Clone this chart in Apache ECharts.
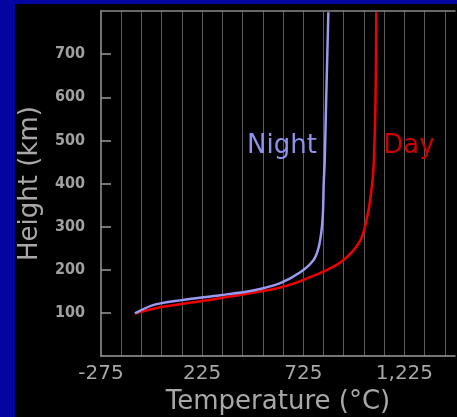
<!DOCTYPE html>
<html>
<head>
<meta charset="utf-8">
<script src="https://cdn.jsdelivr.net/npm/echarts@6/dist/echarts.min.js"></script>
<style>
  html, body { margin: 0; padding: 0; background: #0404a0; width: 457px; height: 417px; overflow: hidden; }
  #chart { position: absolute; left: 15px; top: 4px; width: 442px; height: 413px; background: #000; }
</style>
</head>
<body>
<div id="chart"></div>
<script>
// night profile (temperature °C, height km)
const nightTemp = [-107, -18, 116, 314, 477, 611, 710, 775, 800, 815, 822, 826, 831, 838, 849];
const nightHeight = [99, 118, 129, 141, 152, 169, 194, 222, 250, 290, 330, 400, 453, 591, 797];

// day profile
const dayTemp = [-107, 17, 314, 611, 745, 908, 1007, 1047, 1067, 1074, 1082, 1086];
const dayHeight = [99, 113, 134, 159, 180, 217, 268, 337, 406, 453, 591, 797];

// tick labels shown on the x axis
const xTickLabels = [-275, 225, 725, 1225];

const labelNight = { text: "Night", at: [620, 487] };
const labelDay = { text: "Day", at: [1247, 487] };

const toPairs = (xs, ys) => xs.map((x, i) => [x, ys[i]]);

const fmtThousands = (v) => {
  const s = String(Math.abs(v)).replace(/\B(?=(\d{3})+(?!\d))/g, ",");
  return v < 0 ? "-" + s : s;
};

const textMark = (lbl, color) => ({
  symbol: "circle",
  symbolSize: 1,
  itemStyle: { color: "rgba(0,0,0,0)" },
  data: [{ coord: lbl.at, value: lbl.text }],
  label: {
    show: true,
    position: "inside",
    formatter: lbl.text,
    color: color,
    fontSize: 26,
    fontFamily: "DejaVu Sans",
  },
});

const chart = echarts.init(document.getElementById("chart"));

const axisGrey = { color: "#9a9a9a", width: 1.5 };

const option = {
  backgroundColor: "#000",
  animation: false,
  grid: { left: 86, top: 7, bottom: 61, right: 2, outerBoundsMode: "none", containLabel: false },
  xAxis: [
    {
      type: "value",
      min: -275,
      max: 1475,
      interval: 100,
      name: "Temperature (°C)",
      nameLocation: "middle",
      nameGap: 31,
      nameTextStyle: { color: "#a8a8a8", fontSize: 26, fontFamily: "DejaVu Sans" },
      axisLine: { onZero: false, lineStyle: axisGrey },
      axisTick: { show: false },
      splitLine: { show: true, showMaxLine: false, showMinLine: false, lineStyle: { color: "#5c5c5c", width: 1 } },
      axisLabel: {
        color: "#a8a8a8",
        fontSize: 20,
        fontFamily: "DejaVu Sans",
        margin: 8,
        showMaxLabel: false,
        formatter: (v) => (xTickLabels.includes(v) ? fmtThousands(v) : ""),
      },
    },
    {
      // top frame line
      type: "value",
      position: "top",
      min: -275,
      max: 1475,
      axisLine: { show: true, onZero: false, lineStyle: { color: "#8a8a8a", width: 1.5 } },
      axisTick: { show: false },
      axisLabel: { show: false },
      splitLine: { show: false },
    },
  ],
  yAxis: {
    type: "value",
    min: 0,
    max: 800,
    interval: 100,
    name: "Height (km)",
    nameLocation: "middle",
    nameGap: 58,
    nameTextStyle: { color: "#a8a8a8", fontSize: 26, fontFamily: "DejaVu Sans" },
    axisLine: { onZero: false, lineStyle: axisGrey },
    axisTick: { show: true, inside: true, length: 10, lineStyle: axisGrey },
    splitLine: { show: false },
    axisLabel: {
      color: "#a0a0a0",
      fontSize: 16,
      fontWeight: "bold",
      fontFamily: "DejaVu Sans Condensed",
      margin: 16,
      showMinLabel: false,
      showMaxLabel: false,
    },
  },
  series: [
    {
      name: "Day",
      type: "line",
      data: toPairs(dayTemp, dayHeight),
      smooth: 0.3,
      symbol: "none",
      lineStyle: { color: "#ee0000", width: 2.5 },
      markPoint: textMark(labelDay, "#cc0000"),
    },
    {
      name: "Night",
      type: "line",
      data: toPairs(nightTemp, nightHeight),
      smooth: 0.3,
      symbol: "none",
      lineStyle: { color: "#9a9af2", width: 2.5 },
      markPoint: textMark(labelNight, "#9090ee"),
    },
  ],
};

chart.setOption(option);
</script>
</body>
</html>
